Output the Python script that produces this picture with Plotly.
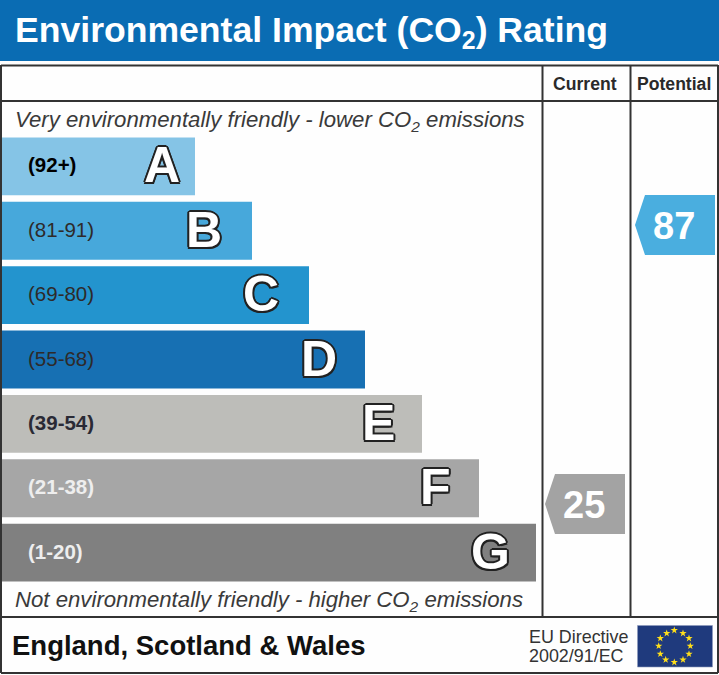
import plotly.graph_objects as go

W, H = 719, 675
bands = ["A", "B", "C", "D", "E", "F", "G"]
ranges = ["(92+)", "(81-91)", "(69-80)", "(55-68)", "(39-54)", "(21-38)", "(1-20)"]
bar_lengths = [195, 252, 309, 365, 422, 479, 536]
bar_colors = ["#85c4e6", "#47a8db", "#2394ce", "#1770b3", "#bdbdb9", "#a6a6a6", "#808080"]
letter_offsets = [-33, -48, -48, -46, -44, -44, -46]
range_colors = ["#000000", "#2e2a2a", "#2e2a2a", "#2e2a2a", "#2a2a35", "#eeeeee", "#eeeeee"]
range_bold = [True, False, False, False, True, True, True]

rating_values = ["87", "25"]
rating_lefts = [635, 545]
rating_tops = [195, 474]
rating_colors = ["#4aaedf", "#a3a3a3"]

star_x = [674.3, 683, 689, 690.3, 689, 683, 674.3, 665.7, 660.3, 658.7, 660.3, 666.7]
star_y = [630.3, 633.3, 638.3, 646, 654, 659.7, 662.3, 659.7, 654, 646, 638.3, 633.3]

FONT = "Liberation Sans"
LINE = "#333333"

fig = go.Figure()
fig.add_trace(go.Bar(
    y=bands, x=bar_lengths, orientation="h", marker=dict(color=bar_colors, line_width=0),
    hoverinfo="skip", showlegend=False, xaxis="x", yaxis="y",
))
fig.add_trace(go.Scatter(
    x=star_x, y=star_y, mode="markers", xaxis="x2", yaxis="y2", hoverinfo="skip", showlegend=False,
    marker=dict(symbol="star", size=5.5, color="#ffdf1a", line_width=0),
))


def vline(x, y0, y1, w=2):
    return dict(type="line", xref="x2", yref="y2", x0=x, x1=x, y0=y0, y1=y1, line=dict(color=LINE, width=w))


def hline(y, x0=1, x1=718, w=2):
    return dict(type="line", xref="x2", yref="y2", x0=x0, x1=x1, y0=y, y1=y, line=dict(color=LINE, width=w))


shapes = [
    dict(type="rect", xref="x2", yref="y2", x0=0, x1=W, y0=0, y1=61, fillcolor="#0a6cb3", line_width=0, layer="below"),
    hline(65.5), hline(101), hline(617), hline(673),
    vline(1, 65, 673), vline(718, 65, 673),
    vline(542.5, 65, 617), vline(630.5, 65, 617),
    dict(type="rect", xref="x2", yref="y2", x0=637.5, x1=712.5, y0=625.5, y1=667, fillcolor="#1f3a7d",
         line=dict(color="#8f9bbd", width=0.6), layer="below"),
]
for left, top, col in zip(rating_lefts, rating_tops, rating_colors):
    shapes.append(dict(
        type="path", xref="x2", yref="y2", fillcolor=col, line_width=0,
        path=f"M {left} {top+30} L {left+10} {top} L {left+80} {top} L {left+80} {top+60} L {left+10} {top+60} Z",
    ))

ann = []


def text(x, y, s, size, color="#333333", bold=False, italic=False, anchor="left", **kw):
    ann.append(dict(
        x=x, y=y, xref="x2", yref="y2", text=f"<b>{s}</b>" if bold else s, showarrow=False,
        xanchor=anchor, yanchor="middle", align="left",
        font=dict(family=FONT, size=size, color=color, style="italic" if italic else "normal", **kw),
    ))


text(13, 32, "Environmental Impact (CO<sub>2</sub>) Rating", 35.6, "#ffffff", bold=True)
text(13, 121, "Very environmentally friendly - lower CO<sub>2</sub> emissions", 22.2, "#3a3a3a", italic=True)
text(13, 601, "Not environmentally friendly - higher CO<sub>2</sub> emissions", 22.2, "#3a3a3a", italic=True)
text(585, 84, "Current", 17.6, "#2a2a2a", bold=True, anchor="center")
text(674, 84, "Potential", 17.6, "#2a2a2a", bold=True, anchor="center")
text(10, 645, "England, Scotland &amp; Wales", 27.5, "#111111", bold=True)
text(527, 637, "EU Directive", 17.9, "#333333")
text(527, 656, "2002/91/EC", 17.9, "#333333")

for v, left, top in zip(rating_values, rating_lefts, rating_tops):
    text(left + 39, top + 31, v, 38, "#ffffff", bold=True, anchor="center")

STROKE = ",".join(f"{a}px {b}px 0 #222222" for a, b in
                  [(2, 0), (-2, 0), (0, 2), (0, -2), (1.5, 1.5), (-1.5, 1.5), (1.5, -1.5), (-1.5, -1.5)])
for b, r, n, off, rc, rb in zip(bands, ranges, bar_lengths, letter_offsets, range_colors, range_bold):
    ann.append(dict(x=26, y=b, xref="x", yref="y", yshift=1.5, text=f"<b>{r}</b>" if rb else r, showarrow=False,
                    xanchor="left", yanchor="middle", font=dict(family=FONT, size=20.5, color=rc)))
    ann.append(dict(x=n, y=b, xref="x", yref="y", xshift=off, yshift=1, text=f"<b>{b}</b>", showarrow=False,
                    xanchor="center", yanchor="middle", font=dict(family=FONT, size=50, color="#ffffff", shadow=STROKE)))

fig.update_layout(
    width=W, height=H, margin=dict(l=0, r=0, t=0, b=0), autosize=False,
    paper_bgcolor="#fefefe", plot_bgcolor="rgba(0,0,0,0)", bargap=0.1, showlegend=False,
    xaxis=dict(domain=[0, 1], range=[0, W], visible=False, fixedrange=True, anchor="y"),
    yaxis=dict(domain=[1 - 584.8 / H, 1 - 134.2 / H], type="category", categoryorder="array", categoryarray=bands,
               autorange=False, range=[6.5, -0.5], visible=False, fixedrange=True, anchor="x"),
    xaxis2=dict(domain=[0, 1], range=[0, W], visible=False, fixedrange=True, anchor="y2"),
    yaxis2=dict(domain=[0, 1], range=[H, 0], visible=False, fixedrange=True, anchor="x2"),
    shapes=shapes, annotations=ann,
)
fig.write_html("out.html", config={"displayModeBar": False},
               post_script="document.body.style.margin='0';document.body.style.overflow='hidden';")
